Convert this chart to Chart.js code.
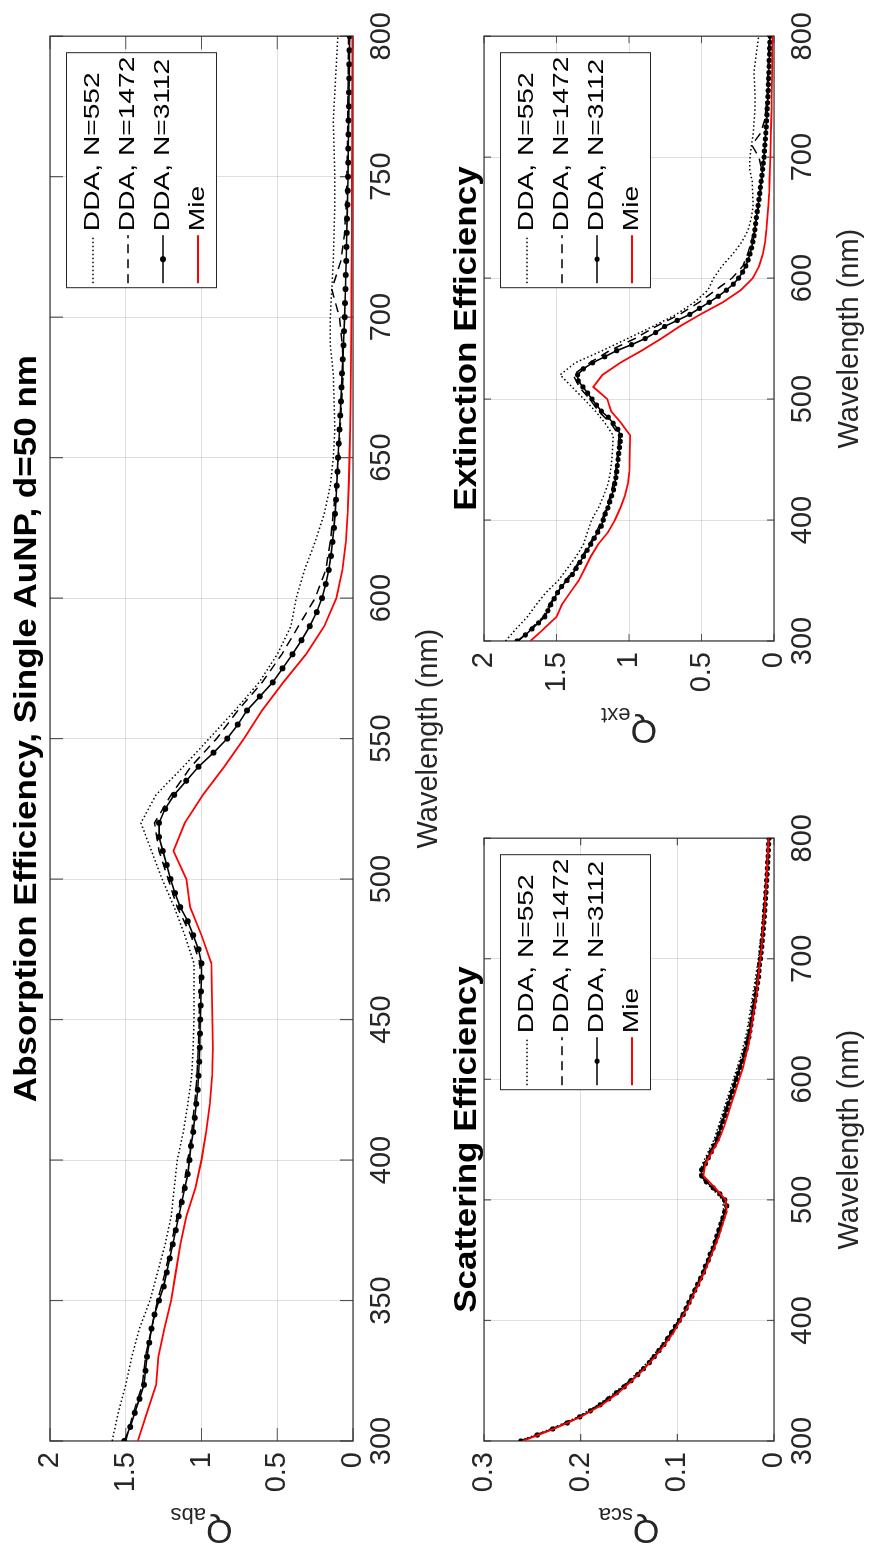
<!DOCTYPE html>
<html>
<head>
<meta charset="utf-8">
<script src="https://cdn.jsdelivr.net/npm/chart.js@4/dist/chart.umd.min.js"></script>
<style>
html,body{margin:0;padding:0;background:#fff;overflow:hidden;width:872px;height:1563px}
#fig{position:absolute;left:0;top:0;width:1563px;height:872px;transform-origin:0 0;transform:translateY(1563px) rotate(-90deg);background:#fff}
#fig canvas{position:absolute}
</style>
</head>
<body>
<div id="fig">
  <canvas id="cAbs" width="1563" height="448" style="left:0;top:0"></canvas>
  <canvas id="cSca" width="761" height="440" style="left:0;top:432px"></canvas>
  <canvas id="cExt" width="763" height="440" style="left:800px;top:432px"></canvas>
</div>
<script>
// wavelength grids (nm)
const wl5=[]
for(let w=300;w<=800;w+=5) wl5.push(w)
const wl10=[]
for(let w=300;w<=800;w+=10) wl10.push(w)

const seriesLabels=["DDA, N=552","DDA, N=1472","DDA, N=3112","Mie"]
const titles={
  abs:"Absorption Efficiency, Single AuNP, d=50 nm",
  sca:"Scattering Efficiency",
  ext:"Extinction Efficiency"
}
const xLabel="Wavelength (nm)"

// ---- absorption ----
const abs552=[
  1.59,1.55,1.50,1.46,1.41,1.34,1.29,1.24,1.20,1.18,
  1.16,1.12,1.09,1.065,1.055,1.05,1.05,1.05,1.11,1.18,
  1.26,1.33,1.40,1.30,1.12,0.95,0.78,0.62,0.50,0.41,
  0.375,0.32,0.25,0.19,0.15,0.13,0.12,0.125,0.13,0.15,
  0.15,0.14,0.13,0.125,0.12,0.12,0.125,0.13,0.12,0.11,
  0.10]
const abs1472=[
  1.50,1.45,1.39,1.37,1.33,1.29,1.24,1.20,1.16,1.12,
  1.09,1.065,1.045,1.03,1.02,1.015,1.012,1.01,1.07,1.16,
  1.22,1.28,1.31,1.20,1.07,0.90,0.76,0.60,0.47,0.36,
  0.25,0.18,0.15,0.13,0.11,0.095,0.085,0.075,0.065,0.07,
  0.09,0.14,0.08,0.055,0.045,0.04,0.037,0.035,0.033,0.031,
  0.03]
const abs3112=[
  1.51,1.47,1.44,1.41,1.38,1.37,1.36,1.345,1.33,1.31,
  1.28,1.25,1.23,1.21,1.19,1.17,1.15,1.13,1.11,1.09,
  1.08,1.07,1.055,1.045,1.035,1.025,1.02,1.015,1.012,1.01,
  1.008,1.005,1.003,1.0,1.0,1.02,1.055,1.09,1.14,1.175,
  1.205,1.23,1.255,1.28,1.28,1.24,1.18,1.10,1.02,0.92,
  0.83,0.76,0.70,0.615,0.53,0.465,0.40,0.34,0.286,0.24,
  0.205,0.18,0.16,0.146,0.135,0.126,0.118,0.112,0.107,0.103,
  0.099,0.094,0.089,0.084,0.080,0.076,0.072,0.067,0.063,0.059,
  0.055,0.053,0.05,0.048,0.045,0.043,0.041,0.039,0.037,0.035,
  0.033,0.032,0.031,0.03,0.029,0.027,0.026,0.025,0.024,0.023,
  0.022]
const absMie=[
  1.42,1.36,1.30,1.285,1.245,1.20,1.17,1.14,1.10,1.04,
  1.0,0.97,0.945,0.93,0.925,0.928,0.932,0.935,1.0,1.075,
  1.10,1.185,1.11,0.99,0.85,0.72,0.60,0.46,0.31,0.19,
  0.11,0.07,0.047,0.035,0.028,0.023,0.019,0.016,0.014,0.012,
  0.011,0.01,0.009,0.008,0.007,0.0065,0.006,0.0055,0.005,0.0045,
  0.004]

// ---- scattering ----
const sca552=[
  0.263,0.231,0.203,0.182,0.165,0.15,0.137,0.126,0.116,0.107,
  0.099,0.092,0.086,0.08,0.074,0.069,0.064,0.06,0.056,0.052,
  0.053,0.065,0.077,0.074,0.068,0.062,0.058,0.054,0.05,0.046,
  0.042,0.038,0.034,0.031,0.028,0.026,0.024,0.022,0.02,0.018,
  0.016,0.015,0.013,0.012,0.011,0.01,0.009,0.008,0.0075,0.007,
  0.006]
const sca1472=[
  0.262,0.23,0.202,0.181,0.164,0.149,0.136,0.125,0.115,0.106,
  0.098,0.091,0.085,0.079,0.073,0.068,0.063,0.059,0.055,0.051,
  0.052,0.064,0.076,0.072,0.066,0.06,0.056,0.052,0.048,0.044,
  0.04,0.036,0.032,0.029,0.026,0.024,0.022,0.02,0.018,0.0165,
  0.015,0.0135,0.012,0.011,0.01,0.0092,0.0084,0.0076,0.007,0.0064,
  0.0058]
const sca3112=[
  0.262,0.245,0.229,0.214,0.201,0.19,0.18,0.171,0.163,0.155,
  0.148,0.141,0.135,0.129,0.124,0.119,0.114,0.11,0.106,0.102,
  0.098,0.094,0.091,0.088,0.085,0.082,0.079,0.076,0.073,0.071,
  0.068,0.066,0.063,0.061,0.059,0.057,0.055,0.053,0.051,0.049,
  0.051,0.056,0.063,0.07,0.075,0.075,0.071,0.068,0.065,0.062,
  0.059,0.057,0.055,0.053,0.051,0.049,0.047,0.045,0.043,0.041,
  0.039,0.037,0.035,0.033,0.031,0.029,0.028,0.026,0.025,0.024,
  0.023,0.022,0.021,0.02,0.019,0.018,0.017,0.016,0.0155,0.015,
  0.014,0.0134,0.0128,0.0122,0.0116,0.011,0.0105,0.01,0.0096,0.0092,
  0.0088,0.0084,0.008,0.0076,0.0072,0.0068,0.0065,0.0062,0.0059,0.0056,
  0.0053]
const scaMie=[
  0.26,0.228,0.2,0.178,0.161,0.147,0.134,0.123,0.113,0.104,
  0.097,0.09,0.084,0.078,0.072,0.067,0.062,0.057,0.053,0.049,
  0.05,0.061,0.073,0.071,0.064,0.057,0.052,0.048,0.044,0.04,
  0.036,0.032,0.029,0.026,0.024,0.022,0.02,0.018,0.017,0.0155,
  0.014,0.0128,0.0117,0.0107,0.0098,0.009,0.0082,0.0075,0.0068,0.0062,
  0.0057]

// ---- extinction ----
const ext552=[
  1.852,1.779,1.701,1.64,1.573,1.488,1.425,1.364,1.314,1.286,
  1.258,1.211,1.175,1.144,1.128,1.118,1.113,1.109,1.165,1.231,
  1.311,1.393,1.475,1.371,1.185,1.01,0.837,0.674,0.55,0.456,
  0.417,0.358,0.284,0.221,0.178,0.156,0.144,0.147,0.15,0.168,
  0.166,0.155,0.143,0.137,0.131,0.13,0.134,0.138,0.128,0.117,
  0.106]
const ext1472=[
  1.762,1.679,1.591,1.55,1.493,1.438,1.375,1.324,1.274,1.226,
  1.188,1.156,1.13,1.109,1.093,1.083,1.075,1.069,1.125,1.211,
  1.271,1.343,1.385,1.271,1.135,0.959,0.815,0.651,0.517,0.403,
  0.289,0.215,0.181,0.158,0.135,0.118,0.106,0.094,0.082,0.085,
  0.104,0.153,0.092,0.066,0.055,0.049,0.045,0.042,0.039,0.037,
  0.035]
const ext3112=[
  1.772,1.715,1.669,1.624,1.581,1.56,1.54,1.516,1.493,1.465,
  1.428,1.391,1.365,1.339,1.314,1.289,1.264,1.24,1.216,1.192,
  1.178,1.164,1.146,1.133,1.12,1.107,1.099,1.091,1.085,1.081,
  1.076,1.071,1.066,1.061,1.059,1.077,1.11,1.143,1.191,1.224,
  1.256,1.286,1.318,1.35,1.355,1.315,1.251,1.168,1.085,0.982,
  0.889,0.817,0.755,0.668,0.581,0.514,0.447,0.385,0.329,0.281,
  0.244,0.217,0.195,0.179,0.166,0.155,0.146,0.138,0.132,0.127,
  0.122,0.116,0.11,0.104,0.099,0.094,0.089,0.083,0.079,0.074,
  0.069,0.066,0.063,0.06,0.057,0.054,0.052,0.049,0.047,0.044,
  0.042,0.04,0.039,0.038,0.036,0.034,0.033,0.031,0.03,0.029,
  0.027]
const extMie=[
  1.68,1.588,1.50,1.463,1.406,1.347,1.304,1.263,1.213,1.144,
  1.097,1.06,1.029,1.008,0.997,0.995,0.994,0.992,1.053,1.124,
  1.15,1.246,1.183,1.061,0.914,0.777,0.652,0.508,0.354,0.23,
  0.146,0.102,0.076,0.061,0.052,0.045,0.039,0.034,0.031,0.028,
  0.025,0.023,0.021,0.019,0.017,0.016,0.014,0.013,0.012,0.011,
  0.01]

const FONT="'Liberation Sans', Arial, Helvetica, sans-serif"
const AXIS_COL="#262626"
const GRID_COL="rgba(38,38,38,0.15)"

function pts(xs,ys){ return xs.map((x,i)=>({x:x,y:ys[i]})) }

function makeDatasets(d552,d1472,d3112,dMie,ptR){
  return [
    {label:seriesLabels[0],data:pts(wl10,d552),borderColor:"#000",borderWidth:1.5,borderDash:[1.5,2.5],pointRadius:0,order:3},
    {label:seriesLabels[1],data:pts(wl10,d1472),borderColor:"#000",borderWidth:1.5,borderDash:[9,6],pointRadius:0,order:2},
    {label:seriesLabels[2],data:pts(wl5,d3112),borderColor:"#000",borderWidth:1.6,pointRadius:ptR,pointBackgroundColor:"#000",pointBorderWidth:0,order:1},
    {label:seriesLabels[3],data:pts(wl10,dMie),borderColor:"#ff0000",borderWidth:1.8,pointRadius:0,order:0}
  ]
}

// axes box + inward ticks, MATLAB style
const framePlugin={
  id:"frame",
  beforeDatasetsDraw(chart,args,o){
    const {ctx,chartArea:a,scales:{x,y}}=chart
    ctx.save()
    ctx.strokeStyle=AXIS_COL
    ctx.globalAlpha=0.75
    ctx.lineWidth=1.2
    ctx.beginPath()
    x.ticks.forEach(t=>{
      const px=x.getPixelForValue(t.value)
      ctx.moveTo(px,a.bottom);ctx.lineTo(px,a.bottom-o.tick)
      ctx.moveTo(px,a.top);ctx.lineTo(px,a.top+o.tick)
    })
    y.ticks.forEach(t=>{
      const py=y.getPixelForValue(t.value)
      ctx.moveTo(a.left,py);ctx.lineTo(a.left+o.tick,py)
      ctx.moveTo(a.right,py);ctx.lineTo(a.right-o.tick,py)
    })
    ctx.stroke()
    ctx.lineWidth=1.5
    ctx.strokeRect(a.left,a.top,a.right-a.left,a.bottom-a.top)
    ctx.restore()
  }
}

const legendPlugin={
  id:"mlLegend",
  afterDraw(chart,args,o){
    const {ctx,chartArea:a}=chart
    const ds=chart.data.datasets
    const x0=a.right-o.right-o.width, y0=a.top+o.top
    ctx.save()
    ctx.fillStyle="#fff"
    ctx.fillRect(x0,y0,o.width,o.height)
    ctx.strokeStyle=AXIS_COL
    ctx.lineWidth=1
    ctx.strokeRect(x0+0.5,y0+0.5,o.width,o.height)
    ds.forEach((d,i)=>{
      const cy=y0+o.first+i*o.pitch
      ctx.strokeStyle=d.borderColor
      ctx.lineWidth=d.borderWidth
      ctx.setLineDash(d.borderDash||[])
      ctx.beginPath()
      ctx.moveTo(x0+o.pad,cy);ctx.lineTo(x0+o.pad+o.sample,cy)
      ctx.stroke()
      ctx.setLineDash([])
      if(d.pointRadius>0){
        ctx.fillStyle="#000"
        ctx.beginPath()
        ctx.arc(x0+o.pad+o.sample/2,cy,d.pointRadius,0,Math.PI*2)
        ctx.fill()
      }
      ctx.save()
      ctx.translate(x0+o.pad+o.sample+o.gap,cy)
      ctx.scale(o.sx,1)
      ctx.fillStyle="#000"
      ctx.font=o.size+"px "+FONT
      ctx.textBaseline="middle"
      ctx.fillText(d.label,0,0)
      ctx.restore()
    })
    ctx.restore()
  }
}

// Q with subscript as y-axis label
const qPlugin={
  id:"qLabel",
  afterDraw(chart,args,o){
    const {ctx,chartArea:a}=chart
    ctx.save()
    ctx.translate(a.left-o.offset,(a.top+a.bottom)/2)
    ctx.rotate(-Math.PI/2)
    ctx.fillStyle=AXIS_COL
    ctx.font=o.size+"px "+FONT
    const wq=ctx.measureText("Q").width
    ctx.font=o.subSize+"px "+FONT
    const ws=ctx.measureText(o.sub).width
    const sx=-(wq+ws)/2
    ctx.textBaseline="alphabetic"
    ctx.font=o.size+"px "+FONT
    ctx.fillText("Q",sx,0)
    ctx.font=o.subSize+"px "+FONT
    ctx.fillText(o.sub,sx+wq,o.drop)
    ctx.restore()
  }
}

const titlePlugin={
  id:"panelTitle",
  afterDraw(chart,args,o){
    const {ctx,chartArea:a}=chart
    ctx.save()
    ctx.fillStyle="#000"
    ctx.font="bold "+o.size+"px "+FONT
    ctx.textAlign="center"
    ctx.textBaseline="alphabetic"
    ctx.translate((a.left+a.right)/2+(o.dx||0),a.top-o.gap)
    ctx.scale(o.sx||1,1)
    ctx.fillText(o.text,0,0)
    ctx.restore()
  }
}

function makePanel(id,p){
  return new Chart(document.getElementById(id),{
    type:"line",
    data:{datasets:makeDatasets(p.d552,p.d1472,p.d3112,p.dMie,p.ptR)},
    options:{
      responsive:false,
      animation:false,
      devicePixelRatio:1,
      layout:{padding:{top:p.padTop,right:p.padRight,left:0,bottom:0}},
      plugins:{
        legend:{display:false},
        tooltip:{enabled:false},
        frame:{tick:p.tick},
        mlLegend:{right:17,top:16,width:235,height:150,first:27,pitch:35,pad:5,sample:48,gap:4,size:22,sx:1.28},
        qLabel:{offset:79,size:34,subSize:22,drop:12,sub:p.sub},
        panelTitle:{text:p.title,size:31,sx:1.13,gap:p.titleGap,dx:p.titleDx}
      },
      scales:{
        x:{
          type:"linear",min:300,max:800,
          ticks:{stepSize:p.xStep,padding:12,autoSkip:false,maxRotation:0,color:AXIS_COL,font:{family:FONT,size:29}},
          grid:{color:GRID_COL,drawTicks:false},
          border:{display:false},
          title:{display:true,text:xLabel,color:AXIS_COL,font:{family:FONT,size:29},padding:{top:0,bottom:p.xtPad}},
          afterFit(s){s.height=p.xH}
        },
        y:{
          type:"linear",min:0,max:p.yMax,
          ticks:{stepSize:p.yStep,padding:11,color:AXIS_COL,font:{family:FONT,size:29},callback:v=>String(Math.round(v*10)/10)},
          grid:{color:GRID_COL,drawTicks:false},
          border:{display:false},
          afterFit(s){s.width=122}
        }
      }
    },
    plugins:[framePlugin,legendPlugin,qPlugin,titlePlugin]
  })
}

makePanel("cAbs",{d552:abs552,d1472:abs1472,d3112:abs3112,dMie:absMie,ptR:3,
  padTop:50,padRight:28,xH:95,xtPad:2,xStep:50,yMax:2,yStep:0.5,tick:13,
  sub:"abs",title:titles.abs,titleGap:14,titleDx:10})
makePanel("cSca",{d552:sca552,d1472:sca1472,d3112:sca3112,dMie:scaMie,ptR:2.6,
  padTop:52,padRight:30,xH:98,xtPad:5,xStep:100,yMax:0.3,yStep:0.1,tick:7,
  sub:"sca",title:titles.sca,titleGap:8,titleDx:0})
makePanel("cExt",{d552:ext552,d1472:ext1472,d3112:ext3112,dMie:extMie,ptR:2.6,
  padTop:52,padRight:28,xH:98,xtPad:5,xStep:100,yMax:2,yStep:0.5,tick:7,
  sub:"ext",title:titles.ext,titleGap:8,titleDx:0})
</script>
</body>
</html>
